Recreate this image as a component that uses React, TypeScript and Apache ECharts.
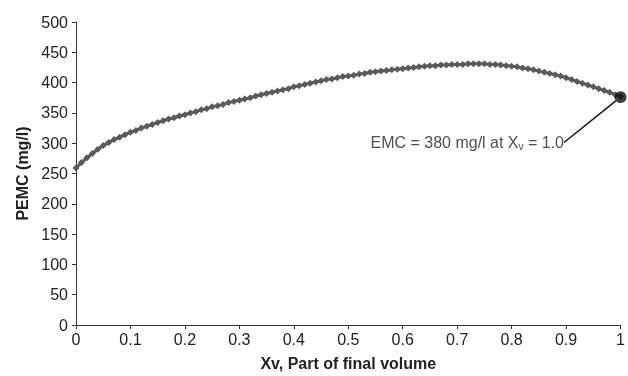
import React, { useEffect, useRef } from "react";
import * as echarts from "echarts";

const xv: number[] = [
  0.0, 0.01, 0.02, 0.03, 0.04, 0.05, 0.06, 0.07, 0.08, 0.09,
  0.1, 0.11, 0.12, 0.13, 0.14, 0.15, 0.16, 0.17, 0.18, 0.19,
  0.2, 0.21, 0.22, 0.23, 0.24, 0.25, 0.26, 0.27, 0.28, 0.29,
  0.3, 0.31, 0.32, 0.33, 0.34, 0.35, 0.36, 0.37, 0.38, 0.39,
  0.4, 0.41, 0.42, 0.43, 0.44, 0.45, 0.46, 0.47, 0.48, 0.49,
  0.5, 0.51, 0.52, 0.53, 0.54, 0.55, 0.56, 0.57, 0.58, 0.59,
  0.6, 0.61, 0.62, 0.63, 0.64, 0.65, 0.66, 0.67, 0.68, 0.69,
  0.7, 0.71, 0.72, 0.73, 0.74, 0.75, 0.76, 0.77, 0.78, 0.79,
  0.8, 0.81, 0.82, 0.83, 0.84, 0.85, 0.86, 0.87, 0.88, 0.89,
  0.9, 0.91, 0.92, 0.93, 0.94, 0.95, 0.96, 0.97, 0.98, 0.99, 1.0,
];

const pemc: number[] = [
  259, 268, 276, 283, 290, 296, 301, 306, 310, 314,
  318, 321, 325, 328, 331, 334, 337, 340, 342, 345,
  347, 350, 352, 355, 357, 360, 362, 364, 367, 369,
  371, 373, 375, 378, 380, 382, 384, 386, 388, 390,
  393, 395, 397, 399, 401, 403, 405, 406, 408, 410,
  411, 412, 414, 415, 417, 418, 419, 420, 421, 422,
  423, 424, 425, 426, 427, 428, 428, 429, 429, 430,
  430, 430, 431, 431, 431, 431, 430, 430, 429, 428,
  427, 426, 424, 423, 421, 419, 417, 415, 413, 411,
  408, 405, 402, 399, 396, 393, 390, 387, 384, 380, 377,
];

const endPoint: number[] = [1.0, 376];
const annotation = "{a|EMC = 380 mg/l at X}{s|v}{a| = 1.0}";

const FONT = "'Liberation Sans', Arial, sans-serif";

export default function App() {
  const ref = useRef<HTMLDivElement>(null);
  useEffect(() => {
    if (!ref.current) return;
    const chart = echarts.init(ref.current, null, { renderer: "svg" });
    const axisCommon = {
      axisLine: { show: true, lineStyle: { color: "#333", width: 1 } },
      axisTick: { show: true, length: 4, lineStyle: { color: "#333" } },
      splitLine: { show: false },
      nameTextStyle: { fontFamily: FONT, fontSize: 16, fontWeight: "bold", color: "#222" },
    };
    chart.setOption({
      animation: false,
      textStyle: { fontFamily: FONT },
      grid: { left: 76, right: 7, top: 22, bottom: 47, containLabel: false },
      xAxis: {
        type: "value",
        min: 0,
        max: 1,
        interval: 0.1,
        name: "Xv, Part of final volume",
        nameLocation: "middle",
        nameGap: 30,
        ...axisCommon,
        axisLabel: { fontFamily: FONT, fontSize: 16, color: "#222", margin: 6 },
      },
      yAxis: {
        type: "value",
        min: 0,
        max: 500,
        interval: 50,
        name: "PEMC (mg/l)",
        nameLocation: "middle",
        nameGap: 44,
        ...axisCommon,
        axisLabel: { fontFamily: FONT, fontSize: 16, color: "#222", margin: 8 },
      },
      series: [
        {
          type: "line",
          data: xv.map((x, i) => [x, pemc[i]]),
          symbol: "diamond",
          symbolSize: 7,
          showSymbol: true,
          showAllSymbol: true,
          lineStyle: { color: "#5a5a5a", width: 3 },
          itemStyle: { color: "#5a5a5a" },
          z: 2,
        },
        {
          type: "scatter",
          data: [endPoint],
          symbol: "circle",
          symbolSize: 12,
          itemStyle: { color: "#111" },
          z: 5,
          label: {
            show: true,
            formatter: annotation,
            rich: {
              a: { fontFamily: FONT, fontSize: 16, color: "#222", lineHeight: 18 },
              s: { fontFamily: FONT, fontSize: 10, color: "#222", lineHeight: 6, verticalAlign: "bottom" },
            },
          },
          labelLayout: { x: 564, y: 142, align: "right", verticalAlign: "middle" },
          labelLine: { show: true, lineStyle: { color: "#111", width: 1.5 } },
        },
      ],
    });
    return () => chart.dispose();
  }, []);
  return (
    <div
      ref={ref}
      style={{ position: "fixed", left: 0, top: 0, width: 628, height: 376 }}
    />
  );
}
